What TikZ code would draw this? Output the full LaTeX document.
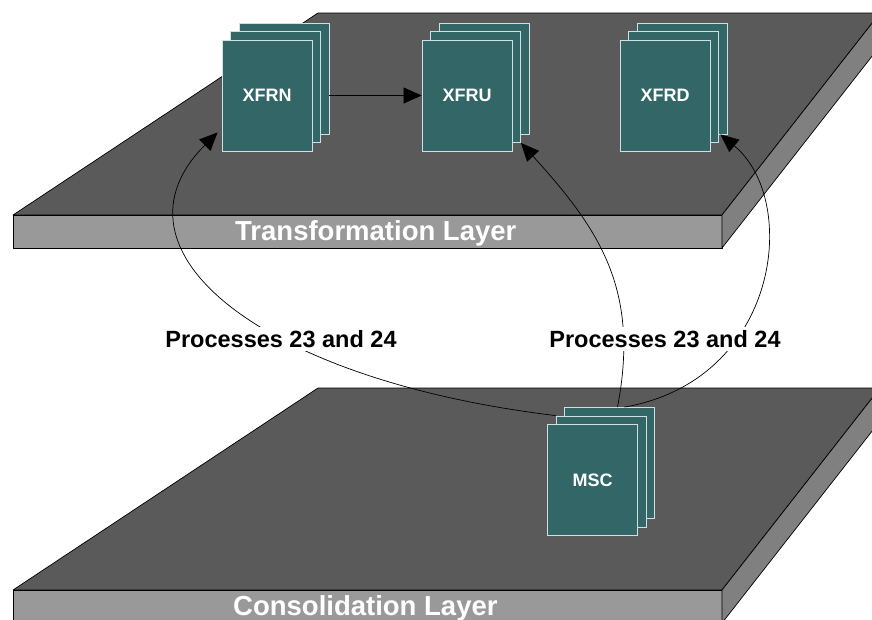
\documentclass[tikz,border=0pt]{standalone}
\usepackage{fontspec}
\setmainfont{Liberation Sans}
\usetikzlibrary{arrows.meta,positioning}

\definecolor{slabtop}{HTML}{5A5A5A}
\definecolor{slabfront}{HTML}{999999}
\definecolor{slabside}{HTML}{808080}
\definecolor{cardfill}{HTML}{336666}
\definecolor{cardedge}{HTML}{D0E0E0}

\tikzset{
	slab/.style={draw=black, line width=0.7pt, line join=round},
	card/.style={draw=cardedge, fill=cardfill, line width=0.9pt, minimum width=90pt, minimum height=111pt,
		text=white, font=\bfseries\fontsize{18}{20}\selectfont},
	flow/.style={-{Triangle[length=18pt,width=16pt]}, line width=0.7pt},
	lbl/.style={fill=white, inner sep=3pt, font=\bfseries\fontsize{23.5}{26}\selectfont},
	layertext/.style={text=white, inner sep=0pt, font=\bfseries\fontsize{27.5}{30}\selectfont}
}

% back copy, middle copy, then the front card with its text
\newcommand{\docstack}[3]{%
	\node[card] (#1back) at ([xshift=17pt,yshift=17pt]#2) {};
	\node[card] (#1mid) at ([xshift=8.5pt,yshift=8.5pt]#2) {};
	\node[card] (#1) at (#2) {#3};
}

\begin{document}
\begin{tikzpicture}[x=1pt, y=-1pt]
	\useasboundingbox (0,0) rectangle (872,619);
	\clip (0,0) rectangle (872,619);

	\filldraw[slab, fill=slabtop] (13,215) -- (318,13) -- (880,13) -- (722,215) -- cycle;
	\filldraw[slab, fill=slabfront] (13,215) rectangle (722,248);
	\filldraw[slab, fill=slabside] (722,215) -- (880,13) -- (880,46) -- (722,248) -- cycle;
	\node[layertext, anchor=base west] (tlayer) at (235,240) {Transformation Layer};

	\filldraw[slab, fill=slabtop] (13,590) -- (318,388) -- (880,388) -- (722,590) -- cycle;
	\filldraw[slab, fill=slabfront] (13,590) rectangle (722,623);
	\filldraw[slab, fill=slabside] (722,590) -- (880,388) -- (880,421) -- (722,623) -- cycle;
	\node[layertext, anchor=base west] (clayer) at (233,615) {Consolidation Layer};

	\coordinate (pXFRN) at (267,95.5);
	\coordinate[right=200pt of pXFRN] (pXFRU);
	\coordinate[right=198pt of pXFRU] (pXFRD);
	\coordinate (pMSC) at (592.5,480);

	\docstack{xfrn}{pXFRN}{XFRN}
	\docstack{xfru}{pXFRU}{XFRU}
	\docstack{xfrd}{pXFRD}{XFRD}
	\docstack{msc}{pMSC}{MSC}

	\draw[flow] (xfrnback.east |- xfrn) -- (xfru.west);
	\draw[flow] (mscmid.north west) .. controls (260,380) and (100,250) .. ([xshift=-4pt,yshift=19pt]xfrn.south west);
	\draw[flow] ([xshift=8pt]mscback.north) .. controls (640,290) and (600,230) .. (xfrumid.south east);
	\draw[flow] ([xshift=15pt]mscback.north) .. controls (780,380) and (800,200) .. ([xshift=-7pt]xfrdback.south east);

	\node[lbl] (lblL) at (281,339) {Processes 23 and 24};
	\node[lbl] (lblR) at (665,339) {Processes 23 and 24};
\end{tikzpicture}
\end{document}
